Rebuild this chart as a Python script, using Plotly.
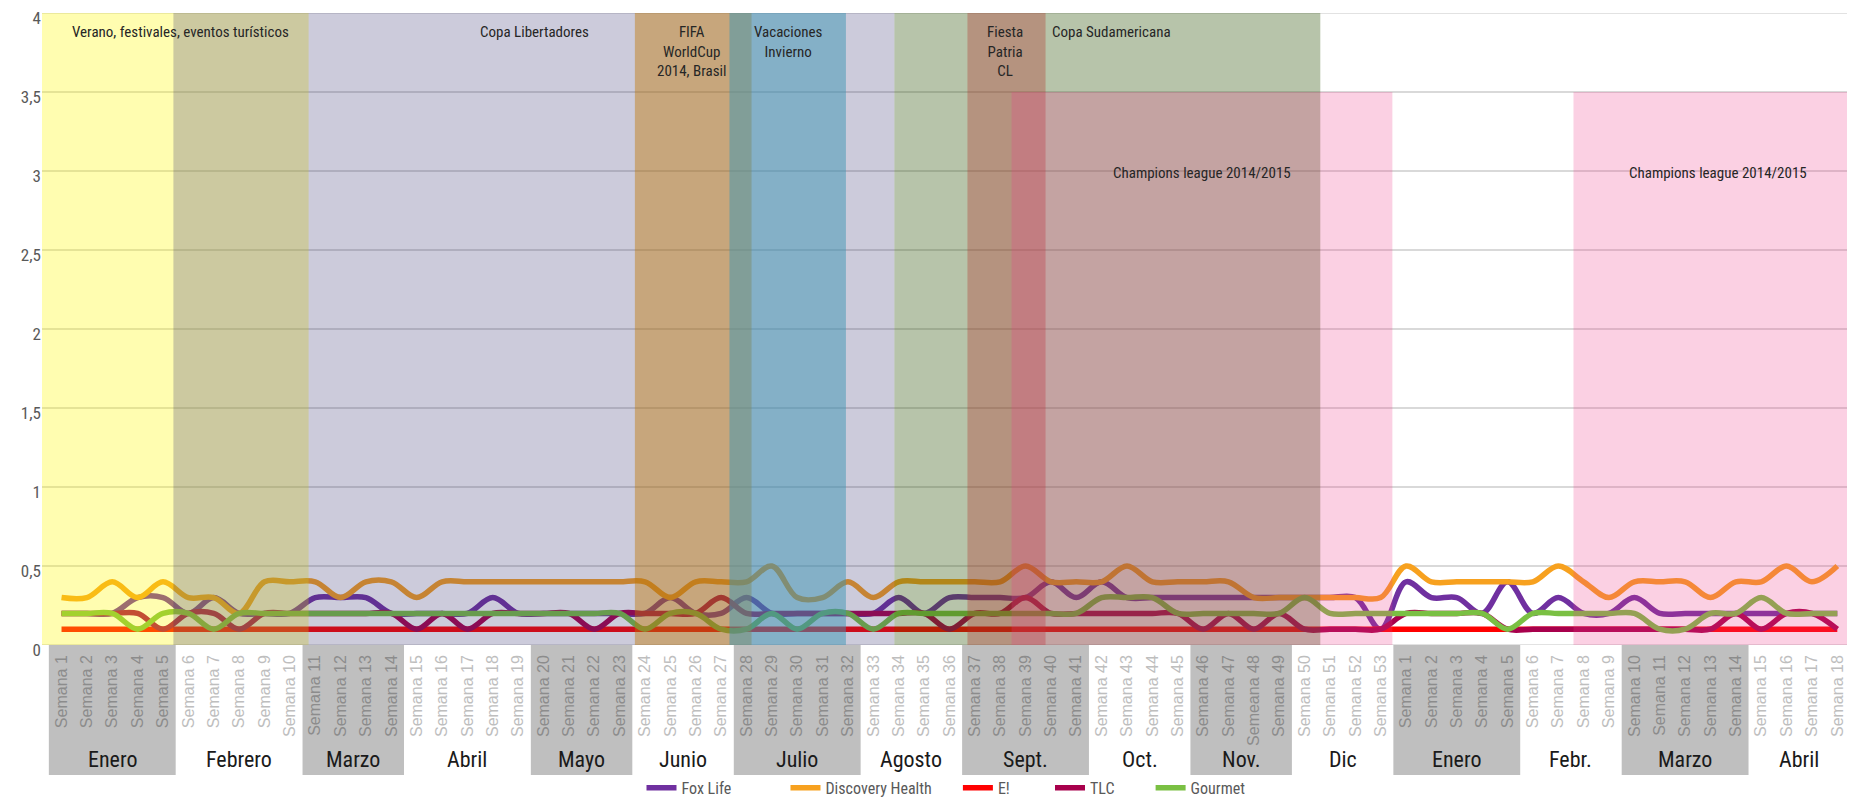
import plotly.graph_objects as go

# ---------------- data ----------------
week_labels = [f"Semana {n}" for n in range(1, 54)] + [f"Semana {n}" for n in range(1, 19)]
week_labels[47] = "Semeana 48"

months = ["Enero", "Febrero", "Marzo", "Abril", "Mayo", "Junio", "Julio", "Agosto",
          "Sept.", "Oct.", "Nov.", "Dic", "Enero", "Febr.", "Marzo", "Abril"]
month_weeks = [5, 5, 4, 5, 4, 4, 5, 4, 5, 4, 4, 4, 5, 4, 5, 4]

fox_life = [0.2, 0.2, 0.2, 0.3, 0.3, 0.2, 0.3, 0.2, 0.2, 0.2,
            0.3, 0.3, 0.3, 0.2, 0.2, 0.2, 0.2, 0.3, 0.2, 0.2,
            0.2, 0.2, 0.2, 0.2, 0.3, 0.2, 0.2, 0.3, 0.2, 0.2,
            0.2, 0.2, 0.2, 0.3, 0.2, 0.3, 0.3, 0.3, 0.3, 0.4,
            0.3, 0.4, 0.3, 0.3, 0.3, 0.3, 0.3, 0.3, 0.3, 0.3,
            0.3, 0.3, 0.1, 0.4, 0.3, 0.3, 0.2, 0.4, 0.2, 0.3,
            0.2, 0.2, 0.3, 0.2, 0.2, 0.2, 0.2, 0.2, 0.2, 0.2, 0.2]
discovery_health = [0.3, 0.3, 0.4, 0.3, 0.4, 0.3, 0.3, 0.2, 0.4, 0.4,
                    0.4, 0.3, 0.4, 0.4, 0.3, 0.4, 0.4, 0.4, 0.4, 0.4,
                    0.4, 0.4, 0.4, 0.4, 0.3, 0.4, 0.4, 0.4, 0.5, 0.3,
                    0.3, 0.4, 0.3, 0.4, 0.4, 0.4, 0.4, 0.4, 0.5, 0.4,
                    0.4, 0.4, 0.5, 0.4, 0.4, 0.4, 0.4, 0.3, 0.3, 0.3,
                    0.3, 0.3, 0.3, 0.5, 0.4, 0.4, 0.4, 0.4, 0.4, 0.5,
                    0.4, 0.3, 0.4, 0.4, 0.4, 0.3, 0.4, 0.4, 0.5, 0.4, 0.5]
e_channel = [0.1] * 71
tlc = [0.2, 0.2, 0.2, 0.2, 0.1, 0.2, 0.2, 0.1, 0.2, 0.2,
       0.2, 0.2, 0.2, 0.2, 0.1, 0.2, 0.1, 0.2, 0.2, 0.2,
       0.2, 0.1, 0.2, 0.2, 0.2, 0.2, 0.3, 0.2, 0.2, 0.2,
       0.2, 0.2, 0.2, 0.2, 0.2, 0.1, 0.2, 0.2, 0.3, 0.2,
       0.2, 0.2, 0.2, 0.2, 0.2, 0.1, 0.2, 0.1, 0.2, 0.1,
       0.1, 0.1, 0.1, 0.2, 0.2, 0.2, 0.2, 0.1, 0.1, 0.1,
       0.1, 0.1, 0.1, 0.1, 0.1, 0.1, 0.2, 0.1, 0.2, 0.2, 0.1]
gourmet = [0.2, 0.2, 0.2, 0.1, 0.2, 0.2, 0.1, 0.2, 0.2, 0.2,
           0.2, 0.2, 0.2, 0.2, 0.2, 0.2, 0.2, 0.2, 0.2, 0.2,
           0.2, 0.2, 0.2, 0.1, 0.2, 0.2, 0.1, 0.1, 0.2, 0.1,
           0.2, 0.2, 0.1, 0.2, 0.2, 0.2, 0.2, 0.2, 0.2, 0.2,
           0.2, 0.3, 0.3, 0.3, 0.2, 0.2, 0.2, 0.2, 0.2, 0.3,
           0.2, 0.2, 0.2, 0.2, 0.2, 0.2, 0.2, 0.1, 0.2, 0.2,
           0.2, 0.2, 0.2, 0.1, 0.1, 0.2, 0.2, 0.3, 0.2, 0.2, 0.2]

series_names = ["Fox Life", "Discovery Health", "E!", "TLC", "Gourmet"]
series_values = [fox_life, discovery_health, e_channel, tlc, gourmet]
series_colors = ["#7030A0", "#F7A11F", "#FF0000", "#A8004C", "#7AC043"]
# extra blank space after each legend entry (to spread the legend like the original)
legend_pad = ["\u2003\u2003\u2003\u2002", "\u2003\u2002", "\u2003\u2003\u2002",
              "\u2003\u2003\u2009", ""]

# event bands (in week-index units): start, end, top, colour
event_names = ["Verano", "Copa Libertadores", "FIFA", "Vacaciones", "Copa Sudamericana",
               "Fiesta Patria", "Champions 1", "Champions 2"]
event_start = [-0.77, 4.41, 22.6, 26.33, 32.83, 35.71, 37.45, 59.6]
event_end = [9.74, 32.83, 27.2, 30.92, 49.62, 38.79, 52.46, 71.0]
event_top = [4, 4, 4, 4, 4, 4, 3.5, 3.5]
event_colors = ["rgba(255,250,0,0.31)", "rgba(52,48,112,0.25)", "rgba(192,118,0,0.43)",
                "rgba(60,149,179,0.5)", "rgba(49,86,12,0.35)", "rgba(180,50,40,0.33)",
                "rgba(240,60,140,0.24)", "rgba(240,60,140,0.24)"]

event_texts = ["Verano, festivales, eventos turísticos", "Copa Libertadores",
               "FIFA<br>WorldCup<br>2014, Brasil", "Vacaciones<br>Invierno",
               "Fiesta<br>Patria<br>CL", "Copa Sudamericana",
               "Champions league 2014/2015", "Champions league 2014/2015"]
event_text_x = [0.32, 18.64, 24.85, 28.64, 37.2, 38.98, 44.96, 65.31]
event_text_y = [3.95, 3.95, 3.95, 3.95, 3.95, 3.95, 2.99, 2.99]
event_text_xanchor = ["left", "center", "center", "center", "center", "left", "center", "center"]
event_text_yanchor = ["top", "top", "top", "top", "top", "top", "middle", "middle"]

y_ticks = [0, 0.5, 1, 1.5, 2, 2.5, 3, 3.5, 4]

X_MIN, X_MAX = -0.77, 70.5
NARROW = "Liberation Sans Narrow, Roboto Condensed, DejaVu Sans Condensed, sans-serif"
GRID = "#D9D9D9"

x = list(range(len(week_labels)))

month_of_week = []
for m, n in enumerate(month_weeks):
    month_of_week += [m] * n

fig = go.Figure()
for name, vals, col, pad in zip(series_names, series_values, series_colors, legend_pad):
    fig.add_trace(go.Scatter(x=x, y=vals, name=name + pad, mode="lines",
                             line=dict(color=col, width=5.5, shape="spline", smoothing=1.0)))

shapes = []
# edge gridlines (plotly skips gridlines at the very ends of the range)
for yv in (y_ticks[0], y_ticks[-1]):
    shapes.append(dict(type="line", xref="paper", yref="y", x0=0, x1=1, y0=yv, y1=yv,
                       line=dict(color=GRID, width=1.5), layer="below"))

start = -0.5
for m, n in enumerate(month_weeks):
    end = start + n
    if m % 2 == 0:
        shapes.append(dict(type="rect", xref="x", yref="paper", x0=start, x1=end,
                           y0=-0.2057, y1=0, fillcolor="#BFBFBF", line=dict(width=0),
                           layer="below"))
    start = end

for s, e, t, c in zip(event_start, event_end, event_top, event_colors):
    shapes.append(dict(type="rect", xref="x", yref="y", x0=s, x1=e, y0=0, y1=t,
                       fillcolor=c, line=dict(width=0), layer="above"))

annotations = []
start = -0.5
for m, (name, n) in enumerate(zip(months, month_weeks)):
    annotations.append(dict(x=start + n / 2, y=-0.1804, xref="x", yref="paper",
                            text=name, showarrow=False, yanchor="middle",
                            font=dict(family=NARROW, size=22, color="#1a1a1a")))
    start += n

for t, tx, ty, xa, ya in zip(event_texts, event_text_x, event_text_y,
                             event_text_xanchor, event_text_yanchor):
    annotations.append(dict(x=tx, y=ty, xref="x", yref="y", text=t, showarrow=False,
                            xanchor=xa, yanchor=ya, align="center",
                            font=dict(family=NARROW, size=15, color="#262626")))

tick_text = []
for lbl, m in zip(week_labels, month_of_week):
    col = "#8C8C8C" if m % 2 == 0 else "#BEBEBE"
    tick_text.append(f'<span style="color:{col}">{lbl}</span>')

fig.update_layout(
    width=1847, height=790,
    margin=dict(l=34, r=5, t=5, b=153, autoexpand=False),
    paper_bgcolor="white", plot_bgcolor="white",
    separators=",.",
    shapes=shapes, annotations=annotations,
    showlegend=True,
    legend=dict(orientation="h", x=0.5, xanchor="center", y=-0.226, yanchor="middle",
                font=dict(family=NARROW, size=16, color="#595959"),
                bgcolor="rgba(0,0,0,0)", tracegroupgap=0),
    xaxis=dict(range=[X_MIN, X_MAX], tickmode="array", tickvals=x, ticktext=tick_text,
               tickangle=-90, showgrid=False, zeroline=False, showline=False, ticks="",
               tickfont=dict(family="Liberation Sans, Arial, sans-serif", size=16),
               ticklabelstandoff=6),
    yaxis=dict(range=[0, 4], tickmode="array", tickvals=y_ticks,
               showgrid=True, gridcolor=GRID, gridwidth=1.5,
               zeroline=False, showline=False, ticks="",
               ticklabeloverflow="allow", ticklabelshift=5,
               tickfont=dict(family=NARROW, size=17, color="#595959")),
)

fig.write_html("out.html")
